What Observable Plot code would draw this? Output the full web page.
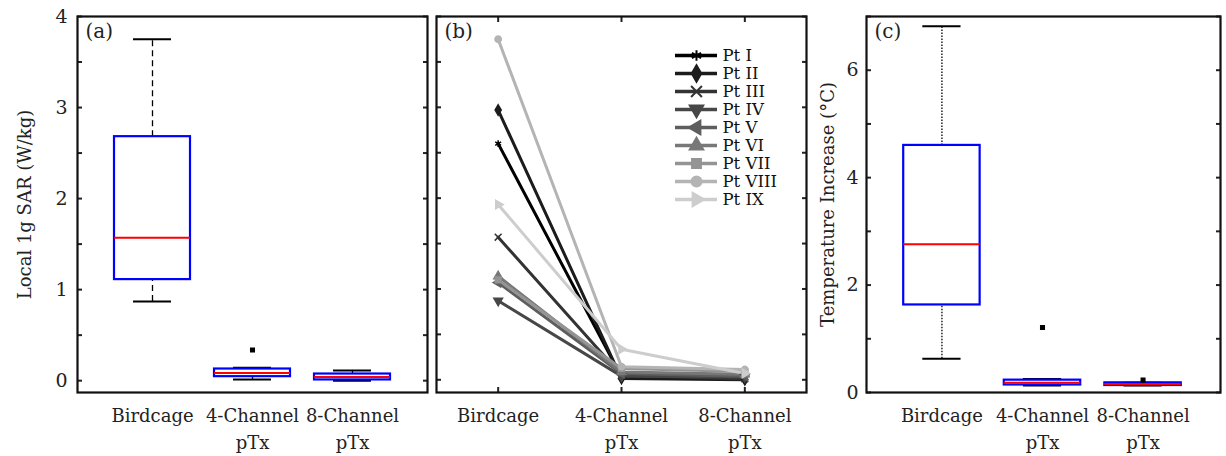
<!DOCTYPE html>
<html>
<head>
<meta charset="utf-8">
<script src="https://cdn.jsdelivr.net/npm/d3@7"></script>
<script src="https://cdn.jsdelivr.net/npm/@observablehq/plot@0.6"></script>
<style>
  html, body { margin: 0; padding: 0; background: #fff; }
  #wrap { position: relative; width: 1226px; height: 456px; overflow: hidden; }
  #wrap > div, #wrap > svg { position: absolute; }
</style>
</head>
<body>
<div id="wrap">
  <div id="pa" style="left:0;top:0"></div>
  <div id="pb" style="left:431px;top:0"></div>
  <div id="pc" style="left:790px;top:0"></div>
  <div id="leg" style="left:675px;top:43px"></div>
</div>
<script>
// ---------- data ----------
const categories = ["Birdcage", "4-Channel\npTx", "8-Channel\npTx"];
const catIndex = [1, 2, 3];

// (a) Local 1g SAR (W/kg) box summaries
const sarLow  = [0.87, 0.014, 0.0];
const sarQ1   = [1.11, 0.044, 0.008];
const sarMed  = [1.57, 0.085, 0.04];
const sarQ3   = [2.68, 0.128, 0.073];
const sarHigh = [3.75, 0.143, 0.113];
const sarOutCat = [2];
const sarOutVal = [0.337];

// (b) per-patient SAR
const patients = ["Pt I", "Pt II", "Pt III", "Pt IV", "Pt V", "Pt VI", "Pt VII", "Pt VIII", "Pt IX"];
const sarBirdcage = [2.60, 2.97, 1.57, 0.87, 1.07, 1.14, 1.10, 3.75, 1.93];
const sar4ch      = [0.03, 0.014, 0.05, 0.04, 0.07, 0.085, 0.125, 0.143, 0.337];
const sar8ch      = [0.005, 0.0, 0.01, 0.03, 0.04, 0.06, 0.09, 0.113, 0.07];
const patientColors  = ["#000000", "#1c1c1c", "#333333", "#474747", "#5e5e5e", "#787878", "#949494", "#b4b4b4", "#cdcdcd"];
const patientSymbols = ["asterisk", "diamond", "times", "triangle", "triangle", "triangle", "square", "circle", "triangle"];
const patientRotate  = [0, 0, 0, 180, -90, 0, 0, 0, 90];

// (c) Temperature increase (°C) box summaries
const tempLow  = [0.63, 0.13, 0.13];
const tempQ1   = [1.63, 0.14, 0.13];
const tempMed  = [2.76, 0.18, 0.16];
const tempQ3   = [4.60, 0.23, 0.18];
const tempHigh = [6.82, 0.25, 0.18];
const tempOutCat = [2, 3];
const tempOutVal = [1.21, 0.23];

// ---------- helpers ----------
const FONT = "DejaVu Serif";
const FS = 18;
const H = 456, MT = 16, MB = 64;
const BOXHALF = 0.38, CAPHALF = 0.19;

function boxTable(lo, q1, med, q3, hi) {
  return catIndex.map((c, i) => ({c, lo: lo[i], q1: q1[i], med: med[i], q3: q3[i], hi: hi[i]}));
}
function xLabels() {
  return Plot.axisX({ticks: catIndex, tickFormat: i => categories[i - 1], tickSize: 0, tickPadding: 10,
    fontSize: FS, lineHeight: 1.5, fill: "#222", label: null});
}
function inwardY(ticks, anchor) {
  return Plot.axisY({anchor, ticks, tickSize: -5, tickFormat: () => "", strokeWidth: 2, label: null});
}
function boxMarks(tbl, dash, outCat, outVal) {
  const outs = outCat.map((c, i) => ({c, v: outVal[i]}));
  return [
    Plot.ruleX(tbl, {x: "c", y1: "q3", y2: "hi", stroke: "#000", strokeWidth: 1.3, strokeDasharray: dash}),
    Plot.ruleX(tbl, {x: "c", y1: "lo", y2: "q1", stroke: "#000", strokeWidth: 1.3, strokeDasharray: dash}),
    Plot.ruleY(tbl, {y: "hi", x1: d => d.c - CAPHALF, x2: d => d.c + CAPHALF, stroke: "#000", strokeWidth: 2}),
    Plot.ruleY(tbl, {y: "lo", x1: d => d.c - CAPHALF, x2: d => d.c + CAPHALF, stroke: "#000", strokeWidth: 2}),
    Plot.rect(tbl, {x1: d => d.c - BOXHALF, x2: d => d.c + BOXHALF, y1: "q1", y2: "q3", fill: "none", stroke: "#0000ff", strokeWidth: 2.2}),
    Plot.ruleY(tbl, {y: "med", x1: d => d.c - BOXHALF, x2: d => d.c + BOXHALF, stroke: "#ff0000", strokeWidth: 2}),
    Plot.dot(outs, {x: "c", y: "v", symbol: "square", r: 2, fill: "#000", stroke: "#000"})
  ];
}
function panelLabel(t) {
  return Plot.text([t], {text: d => d, frameAnchor: "top-left", dx: 8, dy: 7, textAnchor: "start", lineAnchor: "top",
    fontSize: 20, fill: "#222"});
}
function yTitle(t, dx) {
  return Plot.text([t], {text: d => d, frameAnchor: "left", rotate: -90, dx, textAnchor: "middle", fontSize: FS, fill: "#222"});
}
const halfTicks = d3.range(0, 4.01, 0.5);

// ---------- panel (a) ----------
const pa = Plot.plot({
  width: 437, height: H, marginLeft: 77, marginRight: 10, marginTop: MT, marginBottom: MB,
  style: {fontFamily: FONT, fontSize: FS + "px", color: "#222", background: "transparent"},
  x: {type: "linear", domain: [0.25, 3.75]},
  y: {domain: [-0.13, 4]},
  marks: [
    Plot.axisY({ticks: [0, 1, 2, 3, 4], tickSize: 0, tickPadding: 10, tickFormat: d3.format("d"), fontSize: 19, label: null}),
    inwardY(halfTicks, "left"),
    inwardY(halfTicks, "right"),
    xLabels(),
    ...boxMarks(boxTable(sarLow, sarQ1, sarMed, sarQ3, sarHigh), "6,4", sarOutCat, sarOutVal),
    Plot.frame({stroke: "#111", strokeWidth: 2.2}),
    panelLabel("(a)"),
    yTitle("Local 1g SAR (W/kg)", -52)
  ]
});
document.getElementById("pa").appendChild(pa);

// ---------- panel (b) ----------
const conds = [
  {c: 1, vals: sarBirdcage},
  {c: 2, vals: sar4ch},
  {c: 3, vals: sar8ch}
];
const longData = patients.flatMap((p, i) => conds.map(k => ({
  p, c: k.c, v: k.vals[i], color: patientColors[i], symbol: patientSymbols[i], rot: patientRotate[i]
})));
const pb = Plot.plot({
  width: 380, height: H, marginLeft: 5, marginRight: 5, marginTop: MT, marginBottom: MB,
  style: {fontFamily: FONT, fontSize: FS + "px", color: "#222", background: "transparent"},
  x: {type: "linear", domain: [0.5, 3.5]},
  y: {domain: [-0.14, 4]},
  marks: [
    inwardY(halfTicks, "left"),
    inwardY(halfTicks, "right"),
    Plot.axisX({anchor: "top", ticks: catIndex, tickSize: -5, tickFormat: () => "", strokeWidth: 2, label: null}),
    Plot.axisX({anchor: "bottom", ticks: catIndex, tickSize: -5, tickFormat: () => "", strokeWidth: 2, label: null}),
    xLabels(),
    Plot.line(longData, {x: "c", y: "v", z: "p", stroke: "color", strokeWidth: 3}),
    Plot.dot(longData, {x: "c", y: "v", symbol: "symbol", rotate: "rot", r: 3.2, fill: "color", stroke: "color", strokeWidth: 1.5}),
    Plot.frame({stroke: "#111", strokeWidth: 2.2}),
    panelLabel("(b)")
  ]
});
document.getElementById("pb").appendChild(pb);

// legend for (b)
const legData = patients.map((p, i) => ({p, color: patientColors[i], symbol: patientSymbols[i], rot: patientRotate[i]}));
const leg = Plot.plot({
  width: 125, height: 167, margin: 0,
  style: {fontFamily: FONT, fontSize: "17px", color: "#222", background: "transparent", overflow: "visible"},
  x: {domain: [0, 1], range: [0, 42]},
  y: {type: "band", domain: patients, padding: 0},
  axis: null,
  marks: [
    Plot.ruleY(legData, {y: "p", x1: 0, x2: 1, stroke: "color", strokeWidth: 3.5}),
    Plot.dot(legData, {y: "p", x: 0.5, symbol: "symbol", rotate: "rot", r: 5, fill: "color", stroke: "color", strokeWidth: 2}),
    Plot.text(legData, {y: "p", x: 1, text: "p", dx: 5, textAnchor: "start", fontSize: 16.5, fill: "#111"})
  ]
});
document.getElementById("leg").appendChild(leg);

// ---------- panel (c) ----------
const pc = Plot.plot({
  width: 436, height: H, marginLeft: 76, marginRight: 6, marginTop: MT, marginBottom: MB,
  style: {fontFamily: FONT, fontSize: FS + "px", color: "#222", background: "transparent"},
  x: {type: "linear", domain: [0.25, 3.77]},
  y: {domain: [0, 7]},
  marks: [
    Plot.axisY({ticks: [0, 2, 4, 6], tickSize: 0, tickPadding: 8, tickFormat: d3.format("d"), fontSize: 19, label: null}),
    inwardY(d3.range(0, 7.01, 1), "left"),
    inwardY(d3.range(0, 7.01, 1), "right"),
    xLabels(),
    ...boxMarks(boxTable(tempLow, tempQ1, tempMed, tempQ3, tempHigh), "1.5,1.5", tempOutCat, tempOutVal),
    Plot.frame({stroke: "#111", strokeWidth: 2.2}),
    panelLabel("(c)"),
    yTitle("Temperature Increase (°C)", -38)
  ]
});
document.getElementById("pc").appendChild(pc);
</script>
</body>
</html>
